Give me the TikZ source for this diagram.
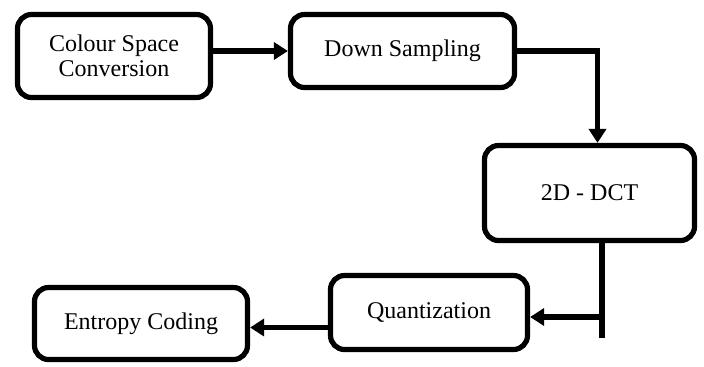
\documentclass[tikz,border=0pt]{standalone}
\usepackage{fontspec}
\setmainfont{Liberation Serif}
\usetikzlibrary{arrows.meta}
\begin{document}
\begin{tikzpicture}[x=0.5pt,y=-0.5pt]
        		\tikzstyle{stage}=[rectangle,rounded corners=7pt,line width=2.6pt,draw=black,fill=white,align=center,font=\fontsize{12}{12.5}\selectfont,inner sep=0pt]
        		\tikzstyle{flow}=[draw, line width=2.6pt, -{Triangle[length=7pt,width=8.5pt]}]
        		\useasboundingbox (0,0) rectangle (704,366);
       			\begin{scope}
			        \node [stage,minimum width=96.5pt,minimum height=41.5pt] (csc) at (114,56) {Colour Space\\Conversion};
			        \node [stage,minimum width=112pt,minimum height=36.5pt] (down) at (402.5,51) {Down Sampling};
			        \node [stage,minimum width=105pt,minimum height=47.5pt] (dct) at (589.5,193) {2D - DCT};
			        \node [stage,minimum width=98.5pt,minimum height=37pt] (quant) at (429,312.5) {Quantization};
			        \node [stage,minimum width=106.5pt,minimum height=36pt] (entropy) at (141,323.5) {Entropy Coding};
			        \coordinate (tee) at (602,338);
			        \coordinate (branch) at (602,317);
			        \path[flow] (csc.east |- down.west) -- (down.west);
			        \path[flow] (down.east) -| ([xshift=4pt]dct.north);
			        \draw[line width=2.6pt] (dct.south -| tee) -- (tee);
			        \path[flow] (branch) -- (branch -| quant.east);
			        \path[flow] ([yshift=-2pt]entropy.east -| quant.west) -- ([yshift=-2pt]entropy.east);
        		\end{scope}
      		\end{tikzpicture}
\end{document}
